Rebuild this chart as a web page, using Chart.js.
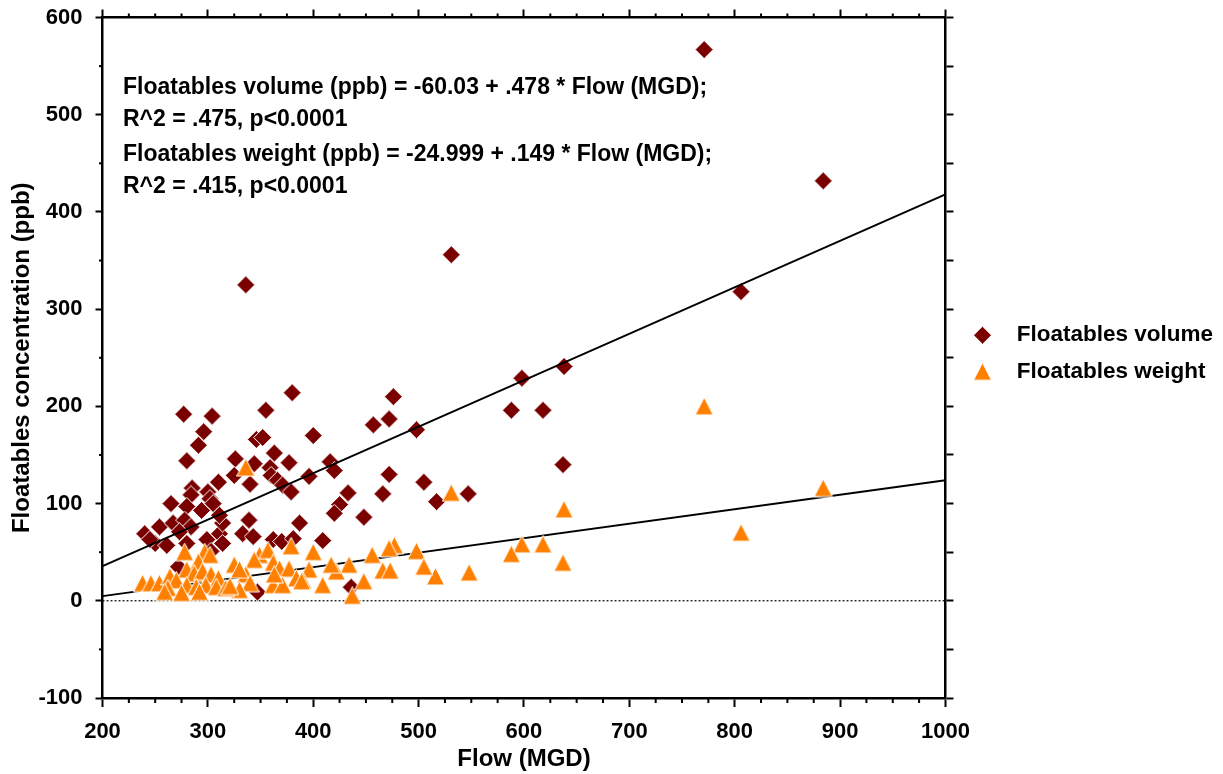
<!DOCTYPE html>
<html>
<head>
<meta charset="utf-8">
<script src="https://cdn.jsdelivr.net/npm/chart.js@4/dist/chart.umd.min.js"></script>
<style>
  html, body { margin: 0; padding: 0; background: #fff; }
</style>
</head>
<body>
<canvas id="chart" width="1223" height="774"></canvas>
<script>
// values
const volumeFlow = [771, 884, 806, 531, 336, 638, 598, 588, 618, 637, 498, 547, 517, 505, 476, 472, 457, 472, 466, 448,
  433, 425, 420, 416, 420, 400, 396, 409, 436, 380, 355, 346, 352, 363, 377, 344, 359, 360, 340, 366,
  371, 379, 339, 387, 333, 343, 362, 370, 381, 347, 277, 304, 296, 291, 280, 326, 325, 310, 285, 300,
  265, 284, 302, 280, 294, 305, 254, 240, 267, 278, 284, 273, 250, 245, 299, 311, 314, 311, 261, 272,
  280, 303, 314];
const volumePpb = [567, 432, 318, 356, 325, 241, 229, 196, 196, 140, 176, 110, 102, 122, 210, 187, 181, 130, 110, 86,
  111, 99, 90, 143, 134, 170, 128, 62, 14, 214, 196, 166, 168, 152, 142, 141, 137, 129, 120, 124,
  119, 112, 83, 80, 69, 66, 63, 61, 64, 9, 192, 190, 174, 160, 144, 146, 129, 122, 116, 112,
  100, 109, 105, 97, 93, 100, 76, 69, 80, 83, 76, 71, 59, 63, 63, 69, 80, 88, 57, 35,
  59, 51, 59];

const weightFlow = [771, 884, 806, 531, 336, 638, 598, 588, 618, 637, 498, 548, 516, 505, 477, 472, 456, 466, 473, 448,
  434, 422, 417, 409, 437, 400, 396, 390, 379, 349, 357, 344, 362, 368, 377, 336, 384, 389, 362, 371,
  340, 330, 363, 278, 297, 302, 291, 325, 280, 287, 295, 303, 310, 238, 246, 254, 264, 270, 262, 280,
  289, 298, 308, 292, 275, 259, 317, 330, 321];
const weightPpb = [200, 116, 70, 111, 137, 94, 58, 48, 58, 39, 51, 29, 25, 35, 57, 54, 47, 31, 31, 20,
  37, 30, 37, 16, 5, 50, 32, 21, 56, 47, 52, 42, 39, 33, 33, 27, 23, 20, 16, 16,
  18, 11, 27, 50, 50, 47, 40, 37, 32, 28, 30, 27, 23, 18, 18, 18, 25, 21, 13, 16,
  14, 16, 14, 9, 8, 9, 13, 32, 15];

const flowRange = [200, 1000];
const volumeFit = { intercept: -60.03, slope: 0.478 };
const weightFit = { intercept: -24.999, slope: 0.149 };

const fitText = [
  'Floatables volume (ppb) = -60.03 + .478 * Flow (MGD);',
  'R^2 = .475, p<0.0001',
  'Floatables weight (ppb) = -24.999 + .149 * Flow (MGD);',
  'R^2 = .415, p<0.0001'
];
const fitTextY = [70.5, 102.5, 137.5, 169.5];

const FONT = '"Liberation Sans", Arial, Helvetica, sans-serif';
const DARK_RED = '#7a0000';
const ORANGE = '#ff8000';

Chart.defaults.font.family = FONT;
Chart.defaults.color = '#000';

function marker(w, h, color, path) {
  const c = document.createElement('canvas');
  c.width = w;
  c.height = h;
  const g = c.getContext('2d');
  g.beginPath();
  path(g);
  g.closePath();
  g.fillStyle = color;
  g.fill();
  g.lineWidth = 1;
  g.strokeStyle = '#fff';
  g.stroke();
  return c;
}

const diamond = marker(19, 19, DARK_RED, g => {
  g.moveTo(9.5, 0.5); g.lineTo(18.5, 9.5); g.lineTo(9.5, 18.5); g.lineTo(0.5, 9.5);
});
const triangle = marker(19, 19, ORANGE, g => {
  g.moveTo(9.5, 0.5); g.lineTo(18.5, 18); g.lineTo(0.5, 18);
});

function points(xs, ys) {
  return xs.map((x, i) => ({ x: x, y: ys[i] }));
}
function fitLine(fit) {
  return flowRange.map(x => ({ x: x, y: fit.intercept + fit.slope * x }));
}

// legend width so the plot ends where the reference plot ends
const legendFont = { size: 22.5, weight: 'bold' };
const m = document.createElement('canvas').getContext('2d');
m.font = 'bold 22.5px ' + FONT;
const legendTextW = Math.max(m.measureText('Floatables volume').width, m.measureText('Floatables weight').width);
const legendW = 13 + 46 + 11.25 + legendTextW + 10;
const rightPad = Math.max(0, 1223 - 947 - legendW);

const minorTicks = {
  id: 'minorTicks',
  afterDraw(chart) {
    const ctx = chart.ctx;
    const specs = [
      { id: 'x', step: 25, major: 100, len: 5 },
      { id: 'x2', step: 25, major: 100, len: 4 },
      { id: 'y', step: 50, major: 100, len: 3.5 }
    ];
    ctx.save();
    ctx.strokeStyle = '#000';
    ctx.lineWidth = 2;
    specs.forEach(s => {
      const sc = chart.scales[s.id];
      for (let v = sc.min; v <= sc.max; v += s.step) {
        if (v % s.major === 0) continue;
        const p = sc.getPixelForValue(v);
        ctx.beginPath();
        if (s.id === 'x') { ctx.moveTo(p, sc.top); ctx.lineTo(p, sc.top + s.len); }
        else if (s.id === 'x2') { ctx.moveTo(p, sc.bottom); ctx.lineTo(p, sc.bottom - s.len); }
        else { ctx.moveTo(sc.right, p); ctx.lineTo(sc.right - s.len, p); }
        ctx.stroke();
      }
    });
    ctx.restore();
  }
};

const fitLabel = {
  id: 'fitLabel',
  afterDatasetsDraw(chart) {
    const { ctx, chartArea } = chart;
    ctx.save();
    ctx.font = 'bold 23px ' + FONT;
    ctx.fillStyle = '#000';
    ctx.textBaseline = 'middle';
    fitText.forEach((t, i) => ctx.fillText(t, chartArea.left + 20.5, chartArea.top + fitTextY[i]));
    ctx.restore();
  }
};

const tickFont = { size: 22, weight: 'bold' };
const axisBorder = { color: '#000', width: 2.5 };

new Chart(document.getElementById('chart'), {
  type: 'scatter',
  data: {
    datasets: [
      {
        label: 'Floatables volume',
        data: points(volumeFlow, volumePpb),
        pointStyle: diamond,
        pointRadius: 9,
        order: 2
      },
      {
        label: 'Floatables weight',
        data: points(weightFlow, weightPpb),
        pointStyle: triangle,
        pointRadius: 9,
        order: 0
      },
      {
        label: 'volume fit',
        data: fitLine(volumeFit),
        showLine: true,
        borderColor: '#000',
        borderWidth: 2,
        pointRadius: 0,
        order: 1
      },
      {
        label: 'weight fit',
        data: fitLine(weightFit),
        showLine: true,
        borderColor: '#000',
        borderWidth: 2,
        pointRadius: 0,
        order: 1
      },
      {
        label: 'zero',
        data: flowRange.map(x => ({ x: x, y: 0 })),
        showLine: true,
        borderColor: '#000',
        borderWidth: 1.2,
        borderDash: [2, 2],
        pointRadius: 0,
        order: 3
      }
    ]
  },
  options: {
    responsive: false,
    animation: false,
    devicePixelRatio: 1,
    layout: { padding: { left: 0, top: 0, bottom: 0, right: rightPad } },
    scales: {
      x: {
        type: 'linear',
        position: 'bottom',
        min: 200,
        max: 1000,
        ticks: { stepSize: 100, font: tickFont, color: '#000', padding: 12, callback: v => String(v) },
        grid: { drawOnChartArea: false, tickLength: 9, tickColor: '#000', tickWidth: 2 },
        border: axisBorder,
        title: { display: true, text: 'Flow (MGD)', color: '#000', font: { size: 24, weight: 'bold' }, padding: { top: 0, bottom: 0 } },
        afterFit: s => { s.height = 76; s.paddingLeft = 0; s.paddingRight = 0; }
      },
      x2: {
        type: 'linear',
        position: 'top',
        min: 200,
        max: 1000,
        ticks: { display: false, stepSize: 100 },
        grid: { drawOnChartArea: false, tickLength: 8, tickColor: '#000', tickWidth: 2 },
        border: axisBorder,
        afterFit: s => { s.height = 17.5; }
      },
      y: {
        type: 'linear',
        position: 'left',
        min: -100,
        max: 600,
        ticks: { stepSize: 100, font: tickFont, color: '#000', padding: 13, callback: v => String(v) },
        grid: { drawOnChartArea: false, tickLength: 7, tickColor: '#000', tickWidth: 2 },
        border: axisBorder,
        title: { display: true, text: 'Floatables concentration (ppb)', color: '#000', font: { size: 24, weight: 'bold' }, padding: { top: 8, bottom: 0 } },
        afterFit: s => { s.width = 102.5; s.paddingTop = 0; s.paddingBottom = 0; }
      },
      y2: {
        type: 'linear',
        position: 'right',
        min: -100,
        max: 600,
        ticks: { display: false, stepSize: 50 },
        grid: { drawOnChartArea: false, tickLength: 8, tickColor: '#000', tickWidth: 2 },
        border: axisBorder,
        afterFit: s => { s.width = 0; }
      }
    },
    plugins: {
      tooltip: { enabled: false },
      legend: {
        position: 'right',
        align: 'start',
        fullSize: false,
        maxWidth: 400,
        title: { display: true, text: '', font: { size: 10 }, padding: { top: 0, bottom: 280.5 } },
        labels: {
          usePointStyle: true,
          pointStyleWidth: 46,
          padding: 14,
          color: '#000',
          font: legendFont,
          filter: item => item.datasetIndex < 2,
          sort: (a, b) => a.datasetIndex - b.datasetIndex
        }
      }
    }
  },
  plugins: [minorTicks, fitLabel]
});
</script>
</body>
</html>
